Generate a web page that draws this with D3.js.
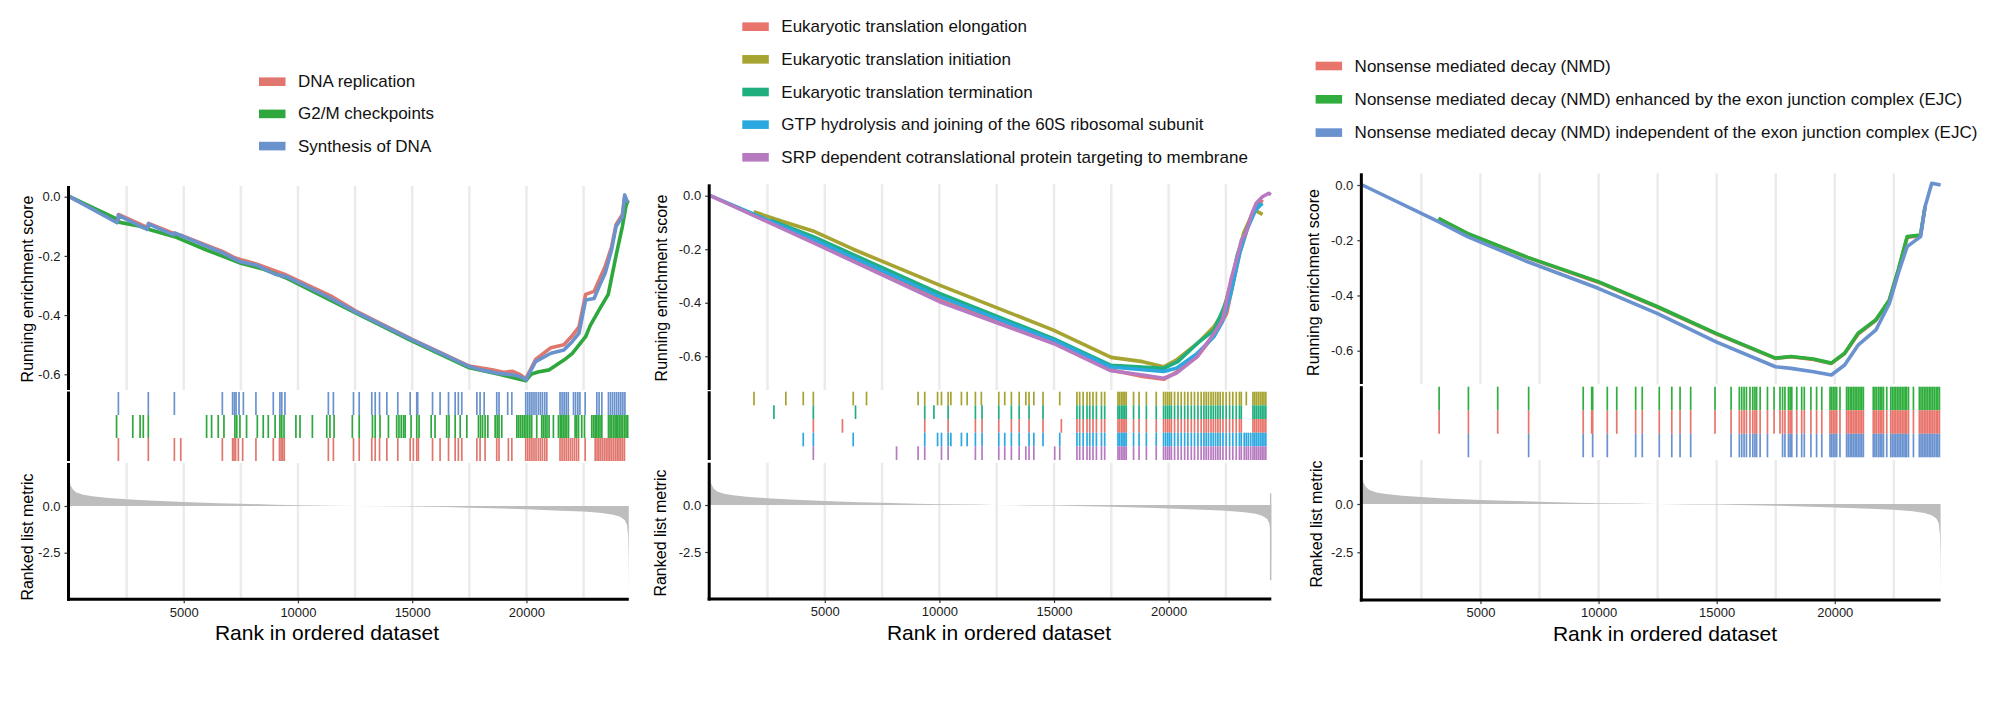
<!DOCTYPE html>
<html>
<head>
<meta charset="utf-8">
<script src="https://cdn.jsdelivr.net/npm/d3@7"></script>
<style>
  body { margin: 0; background: #fff; }
  svg { display: block; font-family: "Liberation Sans", Arial, Helvetica, sans-serif; }
</style>
</head>
<body>
<svg id="chart" width="2000" height="706"></svg>
<script>
const N = 24480;
const gridTicks = [2500, 5000, 7500, 10000, 12500, 15000, 17500, 20000, 22500];
const xTicks = [5000, 10000, 15000, 20000];
const esTicks = [0, -0.2, -0.4, -0.6];
const metricTicks = [0, -2.5];

// ranked list metric (same gene list in every panel)
const metricRank = [0, 50, 150, 300, 600, 1000, 1700, 2500, 3500, 5000, 6500, 7500, 9000, 10000, 11500, 12500,
  14000, 15000, 16500, 17500, 19000, 20000, 21500, 22500, 23300, 23800, 24100, 24300, 24400, 24450, 24470, 24480];
const metricValue = [1.4, 1.1, 0.88, 0.72, 0.6, 0.52, 0.43, 0.36, 0.29, 0.21, 0.15, 0.12, 0.07, 0.04, 0.02, 0.0,
  -0.02, -0.03, -0.06, -0.09, -0.14, -0.18, -0.25, -0.3, -0.38, -0.47, -0.58, -0.75, -1.0, -1.6, -2.8, -4.7];

// ---------- panel 1 ----------
const p1Labels = ["DNA replication", "G2/M checkpoints", "Synthesis of DNA"];
const p1Colors = ["#E0776E", "#2EA83C", "#6A92CD"];

const p1EsDnaRep = [[0, 0], [2137, -0.085], [2140, -0.06], [3450, -0.105], [3460, -0.09], [4588, -0.125], [4866, -0.13],
  [6690, -0.185], [7200, -0.205], [7600, -0.215], [8200, -0.228], [9400, -0.262], [11500, -0.338], [12500, -0.385],
  [15000, -0.482], [17500, -0.572], [18500, -0.585], [19000, -0.593], [19400, -0.59], [19700, -0.6], [19970, -0.615],
  [20100, -0.596], [20400, -0.55], [21070, -0.51], [21640, -0.5], [22000, -0.47], [22300, -0.44], [22590, -0.33],
  [22960, -0.32], [23445, -0.236], [23725, -0.17], [23920, -0.095], [24200, -0.06], [24300, 0.0], [24430, -0.02]];
const p1EsG2M = [[0, 0], [2064, -0.075], [2100, -0.085], [3086, -0.1], [3450, -0.11], [4600, -0.135], [6000, -0.18],
  [7000, -0.21], [7500, -0.225], [8500, -0.245], [9500, -0.275], [12500, -0.392], [15000, -0.488], [17500, -0.578],
  [18800, -0.6], [19970, -0.622], [20200, -0.6], [20500, -0.592], [21000, -0.585], [21640, -0.552], [22000, -0.53],
  [22590, -0.473], [22800, -0.434], [23200, -0.38], [23580, -0.33], [23920, -0.2], [24200, -0.1], [24360, -0.03], [24450, -0.012]];
const p1EsSynth = [[0, 0], [2080, -0.088], [2140, -0.063], [3400, -0.11], [3450, -0.092], [4550, -0.129], [4600, -0.122],
  [6700, -0.19], [7200, -0.21], [7500, -0.22], [8200, -0.232], [9000, -0.262], [9500, -0.27], [11300, -0.338],
  [12500, -0.388], [15000, -0.484], [17500, -0.574], [18000, -0.585], [18800, -0.597], [19500, -0.603], [19740, -0.608],
  [19970, -0.619], [20100, -0.6], [20400, -0.557], [21070, -0.529], [21640, -0.518], [22000, -0.49], [22300, -0.461],
  [22590, -0.349], [22960, -0.344], [23200, -0.3], [23445, -0.259], [23725, -0.18], [23920, -0.101], [24200, -0.068],
  [24300, 0.006], [24430, -0.02]];

const p1HitsDnaRep = [2140, 3450, 4590, 4870, 6690, 7140, 7200, 7270, 7390, 7580, 8160, 8920, 9190, 9260, 9330, 9400,
  11330, 11550, 12430, 12680, 13230, 13380, 13570, 13890, 14370, 14910, 15050, 15200, 15270, 15890, 16220, 16590, 16880,
  17020, 17170, 17830, 17970, 18190, 18700, 18800, 19210, 19360, 19970, 20060, 20150, 20240, 20330, 20420, 20520, 20610,
  20700, 20800, 20890, 21470, 21560, 21650, 21740, 21830, 21920, 22010, 22100, 22190, 22280, 22570, 23010, 23090, 23170,
  23250, 23330, 23410, 23490, 23570, 23650, 23730, 23810, 23890, 23970, 24050, 24130, 24210, 24290];
const p1HitsG2M = [2060, 2770, 3090, 3230, 3450, 6000, 6220, 6510, 6760, 7240, 7320, 7460, 7750, 8220, 8480, 8700,
  9000, 9210, 9290, 9390, 9910, 10090, 10630, 11260, 11400, 11580, 12380, 12680, 13260, 13380, 13590, 13960, 14320,
  14420, 14520, 14620, 14690, 14950, 15200, 15300, 15830, 16000, 16510, 16610, 16880, 17100, 17390, 17900, 17990, 18080,
  18190, 18310, 18630, 18720, 18800, 18920, 19580, 19660, 19740, 19820, 19900, 19980, 20060, 20150, 20230, 20450, 20670,
  20740, 20820, 20900, 20990, 21180, 21400, 21480, 21550, 21620, 21690, 21760, 21840, 22130, 22200, 22280, 22420, 22540,
  22860, 22940, 23010, 23080, 23150, 23220, 23300, 23590, 23660, 23730, 23810, 23880, 23950, 24000, 24070, 24140, 24210,
  24290, 24360, 24430];
const p1HitsSynth = [2140, 3450, 4590, 6690, 7140, 7220, 7290, 7420, 7610, 8160, 8920, 9210, 9290, 9430, 11330, 11550,
  12430, 12680, 13230, 13380, 13570, 13890, 14370, 14910, 15200, 15240, 15890, 16220, 16590, 16880, 17020, 17170, 17830,
  17970, 18150, 18700, 18800, 19180, 19360, 19970, 20060, 20150, 20240, 20330, 20420, 20520, 20610, 20700, 20800, 20890,
  21470, 21560, 21650, 21740, 21830, 22060, 22150, 22250, 22340, 22570, 23080, 23180, 23300, 23590, 23680, 23770, 23860,
  23950, 24040, 24130, 24220, 24310];

// ---------- panel 2 ----------
const p2Labels = ["Eukaryotic translation elongation", "Eukaryotic translation initiation",
  "Eukaryotic translation termination", "GTP hydrolysis and joining of the 60S ribosomal subunit",
  "SRP dependent cotranslational protein targeting to membrane"];
const p2Colors = ["#E8746B", "#A6A330", "#1FAF7E", "#2AA8DF", "#B77AC0"];

const p2EsElong = [[4495, -0.17], [10004, -0.39], [14974, -0.546], [17490, -0.651], [18867, -0.675], [19783, -0.686],
  [20330, -0.66], [21250, -0.601], [21985, -0.52], [22533, -0.44], [23100, -0.215], [23600, -0.08], [24093, -0.015]];
const p2EsInit = [[1897, -0.06], [3300, -0.1], [4555, -0.134], [6239, -0.2], [10004, -0.334], [14974, -0.502],
  [17490, -0.604], [18867, -0.62], [19783, -0.639], [20330, -0.614], [21250, -0.552], [21985, -0.489], [22350, -0.44],
  [22716, -0.327], [23000, -0.24], [23270, -0.14], [23727, -0.053], [24000, -0.065], [24100, -0.07]];
const p2EsTerm = [[2629, -0.091], [4495, -0.153], [10004, -0.365], [14974, -0.534], [17490, -0.634], [19783, -0.645],
  [20400, -0.62], [21250, -0.552], [21985, -0.502], [22350, -0.43], [22533, -0.39], [22800, -0.3], [23000, -0.22],
  [23300, -0.15], [23700, -0.06], [24000, -0.028]];
const p2EsGtp = [[0, 0], [4555, -0.165], [10004, -0.377], [14974, -0.54], [17490, -0.64], [19783, -0.657],
  [20330, -0.645], [21250, -0.589], [21985, -0.526], [22350, -0.47], [22716, -0.365], [23100, -0.215], [23400, -0.13],
  [23800, -0.053], [24093, -0.028]];
const p2EsSrp = [[0, 0], [4555, -0.178], [10004, -0.396], [14974, -0.552], [17490, -0.654], [18867, -0.67],
  [19783, -0.682], [20330, -0.664], [21250, -0.601], [21985, -0.514], [22350, -0.464], [22533, -0.39], [22716, -0.315],
  [22994, -0.228], [23178, -0.165], [23361, -0.14], [23636, -0.066], [23819, -0.028], [24093, -0.004], [24368, 0.009],
  [24460, 0.003]];

const p2SharedHits = [12590, 13140, 13480, 13910, 16000, 16120, 16270, 16440, 16560, 16700, 16850, 17070, 17210, 17790,
  17860, 17940, 18010, 18080, 18150, 18470, 18710, 19030, 19460, 19780, 19870, 19960, 20040, 20120, 20260, 20410, 20550,
  20700, 20840, 20990, 21130, 21280, 21420, 21540, 21640, 21740, 21850, 21950, 22050, 22150, 22250, 22370, 22510, 22660,
  22800, 22950, 23090, 23170, 23680, 23760, 23840, 23920, 24000, 24080, 24160, 24240];
const p2HitsElong = [4500, 5770, 9360, 10380, 11570, 11860, 14520, 15320];
const p2HitsInit = [1910, 3300, 4060, 4500, 6240, 6820, 9070, 9360, 9920, 10090, 10380, 10500, 10960, 11210, 11570,
  11830, 12850, 13770, 14120, 14520, 15250, 23390];
const p2HitsTerm = [2780, 4500, 6340, 9360, 9760, 10380, 11570, 11860, 14520];
const p2HitsGtp = [4060, 4500, 6240, 9360, 9920, 10090, 10380, 10500, 10960, 11210, 11570, 11860, 12850, 14120, 14520,
  15250, 23300, 23390, 23480, 23580];
const p2HitsSrp = [4500, 8130, 9070, 9360, 10090, 10380, 11570, 11860, 12850, 13770, 14120, 15030, 15250, 23300, 23390,
  23480, 23580];
// last ranked gene in panel 2 is drawn as a taller bar
const p2MetricEnd = { rank: 24420, hi: 0.62, lo: -4.0 };

// ---------- panel 3 ----------
const p3Labels = ["Nonsense mediated decay (NMD)",
  "Nonsense mediated decay (NMD) enhanced by the exon junction complex (EJC)",
  "Nonsense mediated decay (NMD) independent of the exon junction complex (EJC)"];
const p3Colors = ["#E8746B", "#2FAE3E", "#6992CF"];

const p3EsNmd = [[3220, -0.122], [4448, -0.176], [7000, -0.263], [9985, -0.352], [12480, -0.442], [14977, -0.539],
  [17487, -0.628], [18148, -0.622], [19097, -0.632], [19855, -0.646], [20417, -0.61], [20986, -0.54], [21742, -0.49],
  [22310, -0.418], [22686, -0.31], [23063, -0.19], [23630, -0.183], [23821, -0.08]];
const p3EsEnh = [[3220, -0.121], [4448, -0.175], [7000, -0.262], [9985, -0.35], [12480, -0.44], [14977, -0.537],
  [17487, -0.627], [18148, -0.621], [19097, -0.63], [19855, -0.645], [20417, -0.609], [20986, -0.537], [21742, -0.488],
  [22310, -0.416], [22686, -0.308], [23063, -0.187], [23630, -0.181], [23821, -0.079]];
const p3EsInd = [[0, 0], [3220, -0.133], [4448, -0.187], [7000, -0.278], [9985, -0.374], [12480, -0.465],
  [14977, -0.568], [17487, -0.658], [18148, -0.664], [19097, -0.676], [19855, -0.688], [20417, -0.652], [20986, -0.58],
  [21742, -0.525], [22310, -0.429], [22686, -0.32], [23063, -0.223], [23630, -0.187], [23821, -0.079], [24105, 0.006],
  [24481, 0.0]];

const p3SharedHits = [4490, 7040, 9350, 9750, 10370, 11570, 11850, 12570, 13100, 13450, 13900, 15610, 15960, 16060,
  16160, 16260, 16410, 16530, 16620, 16690, 16840, 17150, 17790, 17890, 18040, 18110, 18180, 18390, 18600, 18710, 18990,
  19230, 19450, 19800, 19870, 19940, 20010, 20080, 20220, 20500, 20570, 20650, 20720, 20790, 20860, 20930, 21000, 21070,
  21140, 21210, 21630, 21700, 21770, 21850, 21920, 21990, 22060, 22200, 22370, 22440, 22510, 22580, 22650, 22720, 22790,
  22860, 22930, 23000, 23040, 23120, 23330, 23580, 23650, 23720, 23790, 23860, 23930, 24000, 24070, 24140, 24210, 24290,
  24360, 24430];
const p3HitsNmd = [3250, 5730, 9710, 10770, 14930, 17430, 17680];
const p3HitsEnh = [3250, 5730, 9710, 10770, 14930, 17430, 17680];
const p3HitsInd = [];

// ---------- layout (pixels) ----------
const layout = [
  { x0: 69.5, x1: 628.8, esTop: 186, esBottom: 390, es0: 196.7, es6: 374.3,
    rugTop: 392, rugBottom: 461, mTop: 463, mBottom: 599.3, m0: 506, m25: 552.7,
    legX: 259, legY: 81.7, legStep: 32.2, esTitle: [27, 289], mTitle: [27, 537], xTitle: 327 },
  { x0: 710.2, x1: 1271.3, esTop: 184.3, esBottom: 390, es0: 195.7, es6: 356.3,
    rugTop: 391.7, rugBottom: 460, mTop: 462.7, mBottom: 599, m0: 505, m25: 552,
    legX: 742.3, legY: 26.7, legStep: 32.65, esTitle: [661, 288], mTitle: [660, 533], xTitle: 999 },
  { x0: 1362.35, x1: 1940.6, esTop: 173.3, esBottom: 384, es0: 185, es6: 350.7,
    rugTop: 386.7, rugBottom: 457.3, mTop: 460, mBottom: 600, m0: 504, m25: 552.3,
    legX: 1315.6, legY: 66, legStep: 33.3, esTitle: [1313, 282.5], mTitle: [1316, 524], xTitle: 1665 }
];

const panels = [
  { labels: p1Labels, colors: p1Colors, es: [p1EsDnaRep, p1EsG2M, p1EsSynth],
    hits: [p1HitsDnaRep, p1HitsG2M, p1HitsSynth], rugRows: [2, 1, 0], drawOrder: [0, 1, 2] },
  { labels: p2Labels, colors: p2Colors, es: [p2EsElong, p2EsInit, p2EsTerm, p2EsGtp, p2EsSrp],
    hits: [p2HitsElong.concat(p2SharedHits), p2HitsInit.concat(p2SharedHits), p2HitsTerm.concat(p2SharedHits),
           p2HitsGtp.concat(p2SharedHits), p2HitsSrp.concat(p2SharedHits)],
    rugRows: [1, 2, 0, 3, 4], drawOrder: [0, 1, 2, 3, 4], metricEnd: p2MetricEnd },
  { labels: p3Labels, colors: p3Colors, es: [p3EsNmd, p3EsEnh, p3EsInd],
    hits: [p3HitsNmd.concat(p3SharedHits), p3HitsEnh.concat(p3SharedHits), p3HitsInd.concat(p3SharedHits)],
    rugRows: [1, 0, 2], drawOrder: [0, 1, 2] }
];

const svg = d3.select("#chart");
svg.append("rect").attr("width", 2000).attr("height", 706).attr("fill", "#fff");

const metricData = metricRank.map((r, i) => [r, metricValue[i]]);
const fmt = d => d.toFixed(1);

function drawPanel(p, L) {
  const g = svg.append("g");
  const x = d3.scaleLinear().domain([0, N]).range([L.x0, L.x1]);
  const yEs = d3.scaleLinear().domain([0, -0.6]).range([L.es0, L.es6]);
  const yM = d3.scaleLinear().domain([0, -2.5]).range([L.m0, L.m25]);

  // grid
  g.append("g").selectAll("line").data(gridTicks).join("line")
    .attr("x1", d => x(d)).attr("x2", d => x(d))
    .attr("y1", L.esTop).attr("y2", L.esBottom)
    .attr("stroke", "#EBEBEB").attr("stroke-width", 2.5);
  g.append("g").selectAll("line").data(gridTicks).join("line")
    .attr("x1", d => x(d)).attr("x2", d => x(d))
    .attr("y1", L.mTop).attr("y2", L.mBottom)
    .attr("stroke", "#EBEBEB").attr("stroke-width", 2.5);

  // ranked list metric
  g.append("path").datum(metricData)
    .attr("fill", "#BDBDBD")
    .attr("d", d3.area().x(d => x(d[0])).y0(yM(0)).y1(d => yM(d[1])));
  if (p.metricEnd) {
    const e = p.metricEnd;
    g.append("rect").attr("x", x(e.rank)).attr("width", x(N) - x(e.rank))
      .attr("y", yM(e.hi)).attr("height", yM(e.lo) - yM(e.hi)).attr("fill", "#BDBDBD");
  }

  // running enrichment score lines
  const line = d3.line().x(d => x(d[0])).y(d => yEs(d[1]));
  p.drawOrder.forEach(i => {
    g.append("path").datum(p.es[i])
      .attr("fill", "none").attr("stroke", p.colors[i])
      .attr("stroke-width", 3.6).attr("stroke-linejoin", "round")
      .attr("d", line);
  });

  // rug of hits
  const nRows = p.rugRows.length;
  const rowH = (L.rugBottom - L.rugTop) / nRows;
  p.rugRows.forEach((setIdx, row) => {
    g.append("g").selectAll("line").data(p.hits[setIdx]).join("line")
      .attr("x1", d => x(d)).attr("x2", d => x(d))
      .attr("y1", L.rugTop + row * rowH).attr("y2", L.rugTop + (row + 1) * rowH)
      .attr("stroke", p.colors[setIdx]).attr("stroke-width", 1.7);
  });

  // axis lines
  const ax = L.x0 - 1;
  [[L.esTop, L.esBottom], [L.rugTop - 0.5, L.rugBottom], [L.mTop, L.mBottom + 1.5]].forEach(s => {
    g.append("line").attr("x1", ax).attr("x2", ax).attr("y1", s[0]).attr("y2", s[1])
      .attr("stroke", "#000").attr("stroke-width", 3);
  });
  g.append("line").attr("x1", ax - 1.5).attr("x2", L.x1).attr("y1", L.mBottom).attr("y2", L.mBottom)
    .attr("stroke", "#000").attr("stroke-width", 3);

  // y axes
  const yAxisEs = g.append("g").attr("transform", `translate(${ax - 1},0)`)
    .call(d3.axisLeft(yEs).tickValues(esTicks).tickFormat(fmt).tickSize(3).tickPadding(4));
  const yAxisM = g.append("g").attr("transform", `translate(${ax - 1},0)`)
    .call(d3.axisLeft(yM).tickValues(metricTicks).tickFormat(fmt).tickSize(3).tickPadding(4));
  const xAxis = g.append("g").attr("transform", `translate(0,${L.mBottom + 1})`)
    .call(d3.axisBottom(x).tickValues(xTicks).tickFormat(d3.format("d")).tickSize(3).tickPadding(4));
  [yAxisEs, yAxisM, xAxis].forEach(a => {
    a.select(".domain").remove();
    a.attr("font-family", null).attr("font-size", 13);
    a.selectAll("text").attr("fill", "#1a1a1a");
    a.selectAll("line").attr("stroke", "#333").attr("stroke-width", 1.2);
  });

  // titles
  g.append("text").attr("transform", `translate(${L.esTitle[0]},${L.esTitle[1]}) rotate(-90)`)
    .attr("text-anchor", "middle").attr("dominant-baseline", "central")
    .attr("font-size", 16).text("Running enrichment score");
  g.append("text").attr("transform", `translate(${L.mTitle[0]},${L.mTitle[1]}) rotate(-90)`)
    .attr("text-anchor", "middle").attr("dominant-baseline", "central")
    .attr("font-size", 16).text("Ranked list metric");
  g.append("text").attr("x", L.xTitle).attr("y", L.mBottom + 41)
    .attr("text-anchor", "middle").attr("font-size", 21).text("Rank in ordered dataset");

  // legend
  const leg = g.append("g").selectAll("g").data(p.labels).join("g")
    .attr("transform", (d, i) => `translate(${L.legX},${L.legY + i * L.legStep})`);
  leg.append("rect").attr("x", 0).attr("y", -4.3).attr("width", 26.5).attr("height", 8.6)
    .attr("fill", (d, i) => p.colors[i]);
  leg.append("text").attr("x", 39).attr("y", 0).attr("dominant-baseline", "central")
    .attr("font-size", 17).attr("fill", "#111").text(d => d);
}

panels.forEach((p, i) => drawPanel(p, layout[i]));
</script>
</body>
</html>
